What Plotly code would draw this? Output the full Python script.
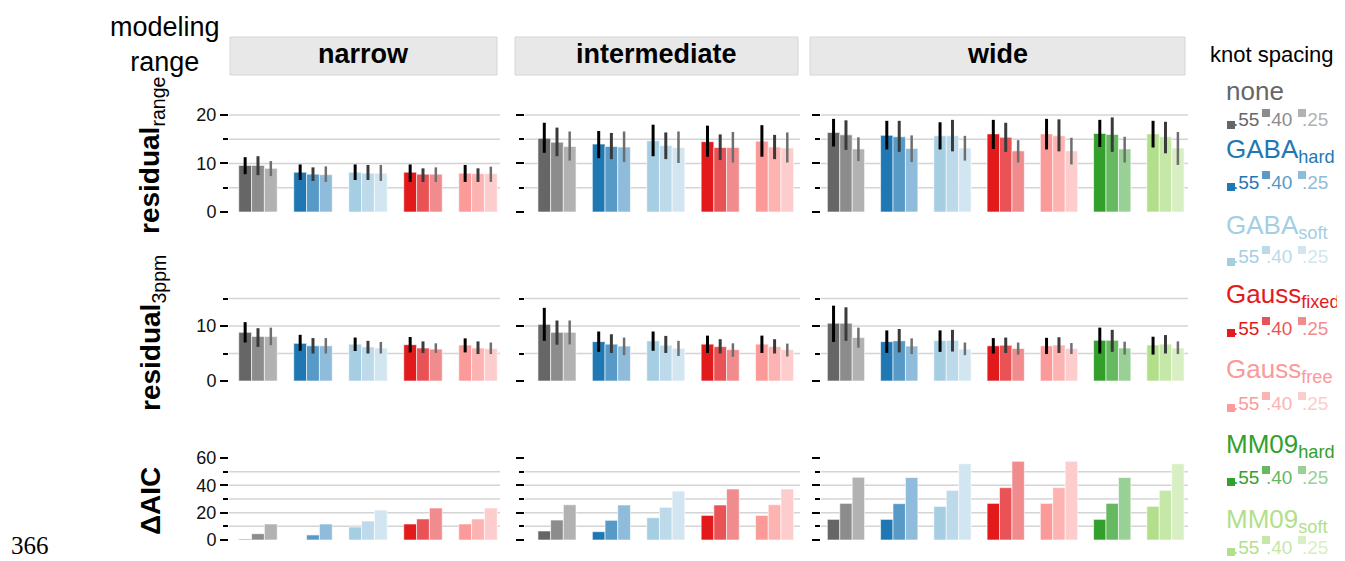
import plotly.graph_objects as go

# The page body has an 8px default margin, so the figure is drawn 8px in from the corner.
OFF = 8
W, H = 1345 - OFF, 561 - OFF
FONT = "Liberation Sans, Arial, Helvetica, sans-serif"

# ---------------- data ----------------
methods = ["none", "GABA_hard", "GABA_soft", "Gauss_fixed", "Gauss_free", "MM09_hard", "MM09_soft"]
method_labels = ["none", "GABA<sub>hard</sub>", "GABA<sub>soft</sub>", "Gauss<sub>fixed</sub>",
                 "Gauss<sub>free</sub>", "MM09<sub>hard</sub>", "MM09<sub>soft</sub>"]
method_colors = ["#666666", "#1f78b4", "#a6cee3", "#e31a1c", "#fb9a99", "#33a02c", "#b2df8a"]
spacings = [".55", ".40", ".25"]
spacing_alpha = [1.0, 0.75, 0.5]
modeling_ranges = ["narrow", "intermediate", "wide"]
n_methods = [5, 5, 7]

# residual_range  (per method: [.55, .40, .25])
res_range_narrow = [[9.6, 9.6, 9.0], [8.2, 7.8, 7.7], [8.2, 8.0, 8.0], [8.2, 7.8, 7.8], [8.0, 7.9, 7.9]]
res_range_narrow_lo = [[7.8, 7.6, 7.4], [6.6, 6.4, 6.2], [6.6, 6.6, 6.4], [6.2, 6.2, 6.2], [6.2, 6.2, 6.2]]
res_range_narrow_hi = [[11.3, 11.5, 10.5], [9.8, 9.2, 9.4], [9.8, 9.7, 9.7], [9.8, 9.0, 9.2], [9.7, 9.0, 9.35]]
res_range_inter = [[15.2, 14.4, 13.5], [14.0, 13.5, 13.4], [14.7, 13.7, 13.3], [14.5, 13.3, 13.3], [14.6, 13.4, 13.2]]
res_range_inter_lo = [[12.2, 11.5, 10.6], [11.1, 10.9, 10.3], [11.5, 10.9, 10.1], [11.4, 10.7, 10.2], [11.4, 10.9, 10.2]]
res_range_inter_hi = [[18.4, 17.4, 16.6], [16.7, 16.3, 16.6], [18.0, 16.4, 16.6], [17.8, 16.0, 16.5], [17.9, 15.9, 16.4]]
res_range_wide = [[16.4, 15.9, 13.0], [15.8, 15.5, 13.1], [15.7, 15.7, 13.2], [16.1, 15.4, 12.6],
                  [16.1, 15.7, 12.6], [16.2, 16.0, 13.0], [16.1, 15.5, 13.2]]
res_range_wide_lo = [[13.5, 12.8, 10.5], [12.9, 12.4, 10.3], [12.9, 12.5, 10.6], [13.0, 12.4, 10.2],
                     [12.9, 12.5, 9.8], [13.4, 12.4, 10.2], [13.3, 12.1, 9.7]]
res_range_wide_hi = [[19.2, 18.9, 15.4], [18.8, 18.8, 15.8], [18.5, 19.0, 15.7], [19.0, 18.4, 14.8],
                     [19.2, 19.1, 15.3], [19.0, 19.5, 15.5], [18.8, 18.6, 16.5]]

# residual_3ppm
res_3ppm_narrow = [[8.85, 8.1, 8.1], [6.85, 6.4, 6.4], [6.7, 6.2, 6.0], [6.6, 6.0, 5.8], [6.55, 6.0, 5.9]]
res_3ppm_narrow_lo = [[7.0, 6.2, 6.5], [5.5, 5.0, 5.0], [5.45, 5.0, 5.0], [5.2, 5.1, 5.1], [5.2, 4.9, 4.9]]
res_3ppm_narrow_hi = [[10.7, 9.6, 9.7], [8.4, 7.8, 7.8], [7.9, 7.3, 7.1], [8.0, 7.2, 6.85], [7.75, 7.2, 7.0]]
res_3ppm_inter = [[10.3, 8.85, 8.85], [7.15, 6.7, 6.35], [7.3, 6.5, 5.95], [6.7, 6.25, 5.7], [6.7, 6.25, 5.7]]
res_3ppm_inter_lo = [[7.3, 6.6, 6.65], [5.3, 5.1, 4.7], [5.5, 5.1, 4.55], [5.1, 5.0, 4.4], [5.1, 5.0, 4.45]]
res_3ppm_inter_hi = [[13.3, 11.0, 11.0], [9.0, 8.5, 7.9], [9.0, 8.2, 7.3], [8.25, 7.6, 6.85], [8.25, 7.6, 6.8]]
res_3ppm_wide = [[10.5, 10.5, 7.9], [7.15, 7.3, 6.35], [7.35, 7.4, 5.8], [6.4, 6.5, 5.9],
                 [6.4, 6.55, 5.9], [7.4, 7.4, 6.0], [6.55, 6.7, 6.0]]
res_3ppm_wide_lo = [[7.1, 7.3, 6.05], [5.1, 5.2, 4.9], [5.3, 5.35, 4.7], [5.0, 5.1, 4.8],
                    [4.9, 5.1, 4.9], [5.0, 5.3, 4.8], [4.8, 5.0, 4.9]]
res_3ppm_wide_hi = [[13.7, 13.4, 9.7], [9.2, 9.45, 7.75], [9.2, 9.3, 7.0], [7.8, 7.9, 7.0],
                    [7.85, 7.95, 6.9], [9.7, 9.3, 7.15], [8.05, 8.35, 7.2]]

# delta AIC
aic_narrow = [[0.6, 4.6, 11.7], [0.0, 3.7, 11.7], [9.5, 13.9, 21.9], [11.7, 15.4, 23.4], [11.7, 15.4, 23.4]]
aic_inter = [[6.6, 14.6, 25.8], [6.1, 14.4, 25.6], [16.3, 23.9, 35.8], [18.0, 25.6, 37.3], [18.0, 25.8, 37.3]]
aic_wide = [[15.1, 26.8, 45.9], [15.1, 26.6, 45.7], [24.6, 36.3, 55.8], [26.8, 38.3, 57.6],
            [26.8, 38.3, 57.6], [15.1, 26.8, 45.7], [24.6, 36.3, 55.8]]

row_titles = ["<b>residual</b><sub>range</sub>", "<b>residual</b><sub>3ppm</sub>", "<b>ΔAIC</b>"]
major_ticks = [[0, 10, 20], [0, 10], [0, 20, 40, 60]]
minor_ticks = [[5, 15], [5, 15], [10, 30, 50]]
grid_vals = [[5, 10, 15, 20], [5, 10, 15], [10, 20, 30, 40, 50]]

rows_data = [
    [(res_range_narrow, res_range_narrow_lo, res_range_narrow_hi),
     (res_range_inter, res_range_inter_lo, res_range_inter_hi),
     (res_range_wide, res_range_wide_lo, res_range_wide_hi)],
    [(res_3ppm_narrow, res_3ppm_narrow_lo, res_3ppm_narrow_hi),
     (res_3ppm_inter, res_3ppm_inter_lo, res_3ppm_inter_hi),
     (res_3ppm_wide, res_3ppm_wide_lo, res_3ppm_wide_hi)],
    [(aic_narrow, None, None), (aic_inter, None, None), (aic_wide, None, None)],
]

# ---------------- layout geometry (window pixels) ----------------
col_px = [(229, 500), (525, 800), (821, 1188)]
col_xrange = [(-0.527, 4.40), (-0.588, 4.467), (-0.469, 6.423)]
row_px = [(108, 214), (290, 383), (452, 542)]          # (top, bottom)
row_yrange = [(-0.412, 21.44), (-0.364, 16.545), (-1.463, 64.39)]
strip_px = [(230, 497), (515, 798), (810, 1185)]


def px(x):
    return (x - OFF) / W


def py(y):
    return 1 - (y - OFF) / H


def blend(hex_color, a):
    h = hex_color.lstrip("#")
    r, g, b = int(h[0:2], 16), int(h[2:4], 16), int(h[4:6], 16)
    return "rgb(%d,%d,%d)" % (round(r * a + 255 * (1 - a)), round(g * a + 255 * (1 - a)), round(b * a + 255 * (1 - a)))


err_colors = ["#000000", "#3a3a3a", "#6e6e6e"]
err_thick = [3, 3, 2.5]

fig = go.Figure()
layout = dict(
    width=W, height=H, autosize=False,
    margin=dict(l=0, r=0, t=0, b=0, pad=0, autoexpand=False),
    paper_bgcolor="white", plot_bgcolor="white",
    barmode="group", bargap=0.3, bargroupgap=0,
    showlegend=False,
    font=dict(family=FONT, color="black"),
)
shapes = []
annotations = []

for r in range(3):
    for c in range(3):
        k = r * 3 + c + 1
        xa = "x" if k == 1 else "x%d" % k
        ya = "y" if k == 1 else "y%d" % k
        n = n_methods[c]
        vals, lo, hi = rows_data[r][c]
        cats = methods[:n]
        for s in range(3):
            y = [vals[i][s] for i in range(n)]
            tr = dict(
                x=cats, y=y, xaxis=xa, yaxis=ya,
                marker=dict(color=[blend(method_colors[i], spacing_alpha[s]) for i in range(n)],
                            line=dict(color="white", width=0.6)),
                hoverinfo="skip", name=spacings[s],
            )
            if lo is not None:
                tr["error_y"] = dict(
                    type="data", symmetric=False,
                    array=[hi[i][s] - vals[i][s] for i in range(n)],
                    arrayminus=[vals[i][s] - lo[i][s] for i in range(n)],
                    color=err_colors[s], thickness=err_thick[s], width=0,
                )
            fig.add_trace(go.Bar(**tr))

        x0, x1 = col_px[c]
        yt, yb = row_px[r]
        layout["xaxis" if k == 1 else "xaxis%d" % k] = dict(
            domain=[px(x0), px(x1)], anchor=ya, type="category",
            categoryorder="array", categoryarray=cats, automargin=False,
            range=list(col_xrange[c]), showticklabels=False, ticks="",
            showgrid=False, zeroline=False, showline=False, fixedrange=True,
        )
        layout["yaxis" if k == 1 else "yaxis%d" % k] = dict(
            domain=[py(yb), py(yt)], anchor=xa, range=list(row_yrange[r]), automargin=False,
            tickmode="array", tickvals=major_ticks[r],
            ticktext=[str(v) for v in major_ticks[r]],
            showticklabels=(c == 0),
            ticks="outside", ticklen=8, tickwidth=2, tickcolor="black",
            tickfont=dict(size=18, color="#111111", family=FONT),
            minor=dict(tickmode="array", tickvals=minor_ticks[r], ticks="outside",
                       ticklen=5, tickwidth=2, tickcolor="black", showgrid=False),
            showgrid=False, zeroline=False, showline=False, fixedrange=True,
        )
        for g in grid_vals[r]:
            shapes.append(dict(type="line", xref="%s domain" % xa, yref=ya,
                               x0=0, x1=1, y0=g, y1=g, layer="below",
                               line=dict(color="#d4d4d4", width=1.5)))

# strips
for c in range(3):
    x0, x1 = strip_px[c]
    shapes.append(dict(type="rect", xref="paper", yref="paper",
                       x0=px(x0), x1=px(x1), y0=py(75), y1=py(37),
                       fillcolor="#e8e8e8", line=dict(color="#d6d6d6", width=1), layer="below"))
    annotations.append(dict(xref="paper", yref="paper", x=px((x0 + x1) / 2), y=py(54),
                            text="<b>%s</b>" % modeling_ranges[c], showarrow=False,
                            xanchor="center", yanchor="middle",
                            font=dict(size=27, color="black", family=FONT)))

# modeling range label
annotations.append(dict(xref="paper", yref="paper", x=px(165), y=py(44),
                        text="modeling<br>range", showarrow=False, align="center",
                        xanchor="center", yanchor="middle",
                        font=dict(size=27, color="black", family=FONT)))

# row titles
row_title_pos = [(152, 155), (152, 333), (150, 501)]
for r in range(3):
    annotations.append(dict(xref="paper", yref="paper", x=px(row_title_pos[r][0]), y=py(row_title_pos[r][1]),
                            text=row_titles[r], textangle=-90, showarrow=False,
                            xanchor="center", yanchor="middle",
                            font=dict(size=28, color="black", family=FONT)))

# legend
annotations.append(dict(xref="paper", yref="paper", x=px(1208), y=py(55), text="knot spacing",
                        showarrow=False, xanchor="left", yanchor="middle",
                        font=dict(size=22, color="black", family=FONT)))
legend_name_y = [91, 151, 226, 295, 370, 445, 520]
legend_row_y = [120, 182, 257, 328, 403, 477, 547]
num_x = [1231, 1264, 1300]
for i in range(7):
    annotations.append(dict(xref="paper", yref="paper", x=px(1224), y=py(legend_name_y[i]),
                            text=method_labels[i], showarrow=False, xanchor="left", yanchor="middle",
                            font=dict(size=26, color=method_colors[i], family=FONT)))
    yr = legend_row_y[i]
    for s in range(3):
        col = blend(method_colors[i], spacing_alpha[s])
        annotations.append(dict(xref="paper", yref="paper", x=px(num_x[s]), y=py(yr),
                                text=spacings[s], showarrow=False, xanchor="left", yanchor="middle",
                                font=dict(size=19, color=col, family=FONT)))
        sx = num_x[s] - 4 if s == 0 else num_x[s] - 2
        if s == 0:
            sy0, sy1 = yr + 1, yr + 9
        else:
            sy0, sy1 = yr - 11, yr - 3
        shapes.append(dict(type="rect", xref="paper", yref="paper",
                           x0=px(sx), x1=px(sx + 8), y0=py(sy1), y1=py(sy0),
                           fillcolor=col, line=dict(width=0), layer="above"))

# page number
annotations.append(dict(xref="paper", yref="paper", x=px(30), y=py(545), text="366",
                        showarrow=False, xanchor="center", yanchor="middle",
                        font=dict(size=25, color="black", family="Liberation Serif, Times New Roman, serif")))

layout["shapes"] = shapes
layout["annotations"] = annotations
fig.update_layout(**layout)
fig.write_html("out.html")
